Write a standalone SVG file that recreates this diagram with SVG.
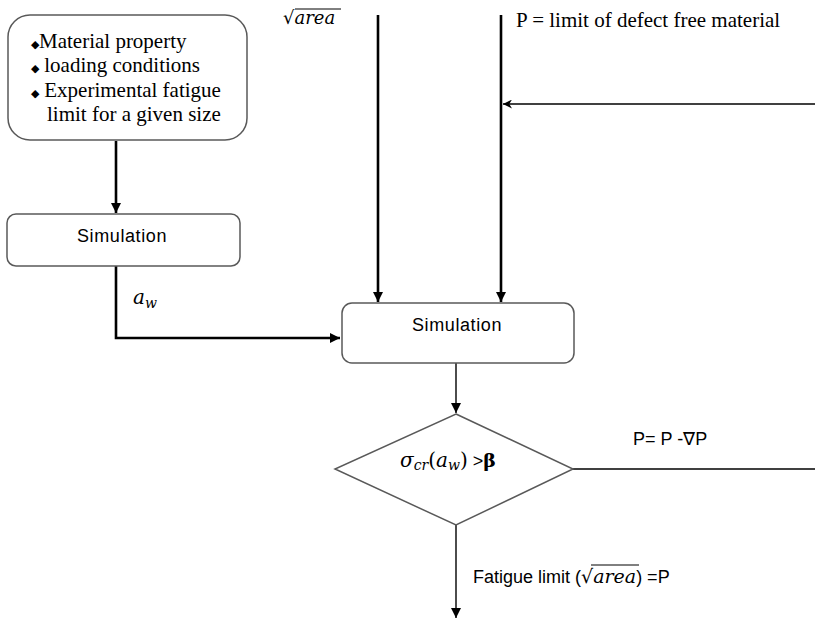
<svg xmlns="http://www.w3.org/2000/svg" width="815" height="622" viewBox="0 0 815 622">
  <defs>
    <marker id="arr" viewBox="0 0 10 10" refX="10" refY="5" markerWidth="10" markerHeight="11" markerUnits="userSpaceOnUse" orient="auto">
      <path d="M0,0 L10,5 L0,10 Z" fill="#000"/>
    </marker>
    <marker id="stealth" viewBox="0 0 10 10" refX="10" refY="5" markerWidth="10" markerHeight="9" markerUnits="userSpaceOnUse" orient="auto">
      <path d="M0,0 L10,5 L0,10 L3,5 Z" fill="#000"/>
    </marker>
  </defs>
  <style>
    .box { fill: #fff; stroke: #595959; stroke-width: 1.5; }
    .flow { fill: none; stroke: #000; stroke-width: 2.6; }
    .thin { fill: none; stroke: #000; stroke-width: 1.4; }
    .serif { font-family: "Liberation Serif", "Times New Roman", serif; font-size: 21px; fill: #000; }
    .sans { font-family: "Liberation Sans", Arial, sans-serif; font-size: 18px; fill: #000; }
    .math { font-family: "DejaVu Serif", "Liberation Serif", serif; font-style: italic; fill: #000; }
  </style>

  <!-- connectors -->
  <g id="connectors">
    <path class="flow" d="M116,141 V213" marker-end="url(#arr)"/>
    <path class="flow" d="M116,266 V338 H340" marker-end="url(#arr)"/>
    <path class="flow" d="M378,15 V302" marker-end="url(#arr)"/>
    <path class="flow" d="M501,15 V302" marker-end="url(#arr)"/>
    <path class="thin" d="M815,104 H503" marker-end="url(#stealth)"/>
    <path class="thin" d="M456,363 V413" marker-end="url(#arr)"/>
    <path class="thin" d="M573,469 H815"/>
    <path class="thin" d="M456,525 V618" marker-end="url(#arr)"/>
  </g>

  <!-- inputs box -->
  <g id="inputs">
    <rect class="box" x="8" y="15" width="239" height="125" rx="22"/>
    <text class="serif" x="31" y="48"><tspan font-size="11">◆</tspan>Material property</text>
    <text class="serif" x="31" y="72"><tspan font-size="11">◆</tspan> loading conditions</text>
    <text class="serif" x="31" y="97"><tspan font-size="11">◆</tspan> Experimental fatigue</text>
    <text class="serif" x="47" y="121">limit for a given size</text>
  </g>

  <!-- first simulation -->
  <g id="simulation1">
    <rect class="box" x="7" y="214" width="233" height="52" rx="9"/>
    <text class="sans" x="122" y="242" text-anchor="middle" letter-spacing="0.6">Simulation</text>
  </g>

  <!-- a_w label -->
  <g id="label-aw">
    <text class="math" x="133" y="304" font-size="20">a<tspan font-size="14" dy="4">w</tspan></text>
  </g>

  <!-- sqrt(area) input label -->
  <g id="label-area">
    <text class="math" x="283" y="24" font-size="18"><tspan font-style="normal">√</tspan>area</text>
    <line x1="295" y1="9" x2="341" y2="9" stroke="#000" stroke-width="1"/>
  </g>

  <!-- P initial label -->
  <g id="label-p">
    <text class="serif" x="516" y="27" font-size="20">P = limit of defect free material</text>
  </g>

  <!-- second simulation -->
  <g id="simulation2">
    <rect class="box" x="342" y="303" width="232" height="60" rx="10"/>
    <text class="sans" x="457" y="331" text-anchor="middle" letter-spacing="0.6">Simulation</text>
  </g>

  <!-- decision -->
  <g id="decision">
    <path class="box" d="M456,414 L573,469 L456,525 L335,469 Z" stroke="#333"/>
    <text x="400" y="467" font-size="20"><tspan class="math">σ<tspan font-size="14" dy="3">cr</tspan><tspan font-style="normal" dy="-3">(</tspan>a<tspan font-size="14" dy="3">w</tspan><tspan font-style="normal" dy="-3">)</tspan></tspan><tspan class="sans" font-size="18"> &gt;</tspan><tspan font-family="DejaVu Serif, serif" font-weight="bold" font-size="19">β</tspan></text>
  </g>

  <!-- update label -->
  <g id="label-update">
    <text class="sans" x="633" y="445" font-size="15.5">P= P -∇P</text>
  </g>

  <!-- result label -->
  <g id="label-result">
    <text class="sans" x="473" y="583" font-size="17.5">Fatigue limit (<tspan class="math" font-size="19"><tspan font-style="normal">√</tspan>area</tspan>) =P</text>
    <line x1="591" y1="565" x2="639" y2="565" stroke="#000" stroke-width="1"/>
  </g>
</svg>
